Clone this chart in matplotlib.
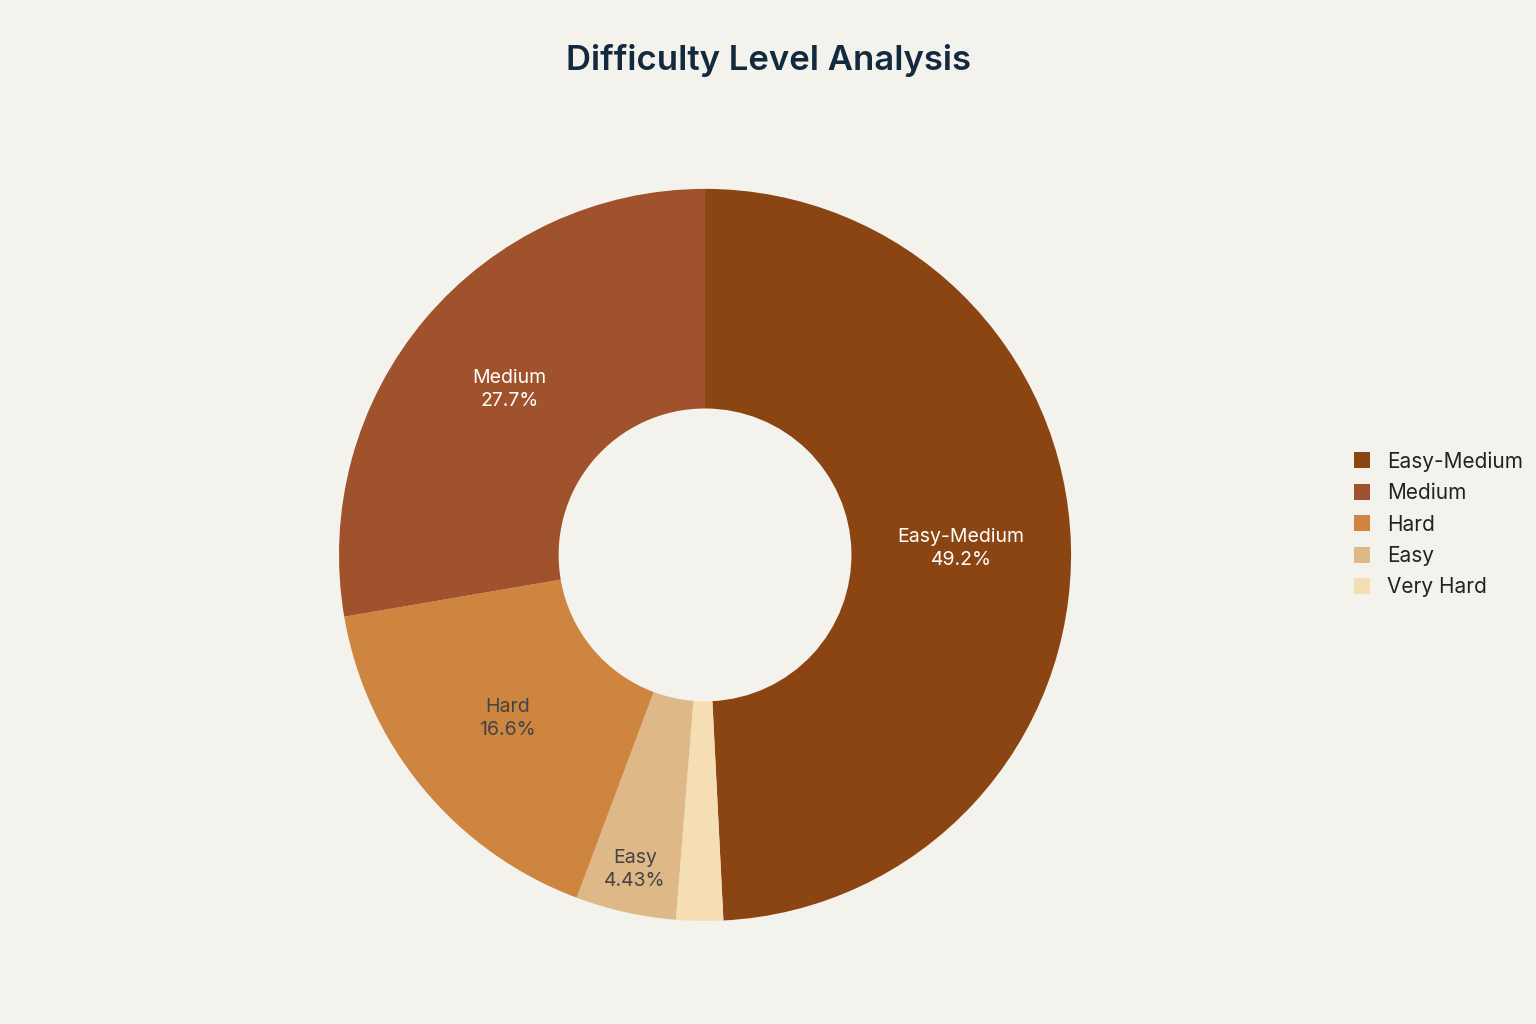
import numpy as np
import matplotlib.pyplot as plt
from matplotlib.patches import Patch

# drawing order (clockwise from 12 o'clock)
labels = ["Easy-Medium", "Very Hard", "Easy", "Hard", "Medium"]
values = [49.2, 2.07, 4.43, 16.6, 27.7]
colors = ["#8B4513", "#F5DEB3", "#DEB887", "#CD853F", "#A0522D"]
legend_order = ["Easy-Medium", "Medium", "Hard", "Easy", "Very Hard"]
shown_pct = {"Easy-Medium": "49.2%", "Medium": "27.7%", "Hard": "16.6%", "Easy": "4.43%"}
text_colors = {"Easy-Medium": "white", "Medium": "white", "Hard": "#444444", "Easy": "#444444"}
label_r = {"Easy-Medium": 0.70, "Medium": 0.70, "Hard": 0.70, "Easy": 0.88}

plt.rcParams["font.family"] = "Inter"
bg = "#F3F2EC"
fig = plt.figure(figsize=(15.36, 10.24), dpi=100, facecolor=bg)
ax = fig.add_axes([0.2207, 0.1006, 0.4766, 0.715])
ax.set_facecolor(bg)

wedges, _ = ax.pie(values, colors=colors, startangle=90, counterclock=False,
                   wedgeprops=dict(width=0.6, edgecolor="none"))
ax.set_xlim(-1, 1)
ax.set_ylim(-1, 1)
ax.set_aspect("equal")
ax.axis("off")

for w, lab in zip(wedges, labels):
    if lab not in shown_pct:
        continue
    ang = np.deg2rad((w.theta1 + w.theta2) / 2)
    r = label_r[lab]
    ax.text(r * np.cos(ang), r * np.sin(ang), f"{lab}\n{shown_pct[lab]}",
            ha="center", va="center", fontsize=14, color=text_colors[lab],
            linespacing=1.35)

handles = [Patch(facecolor=colors[labels.index(l)], label=l) for l in legend_order]
fig.legend(handles=handles, loc="center left", bbox_to_anchor=(0.869, 0.488),
           frameon=False, fontsize=15, handlelength=0.8, handleheight=0.8,
           labelspacing=0.55, labelcolor="#222222")

fig.suptitle("Difficulty Level Analysis", x=0.5, y=0.957, fontsize=25,
             fontweight="semibold", color="#13293D")

fig.savefig("out.png", dpi=100, facecolor=bg)
